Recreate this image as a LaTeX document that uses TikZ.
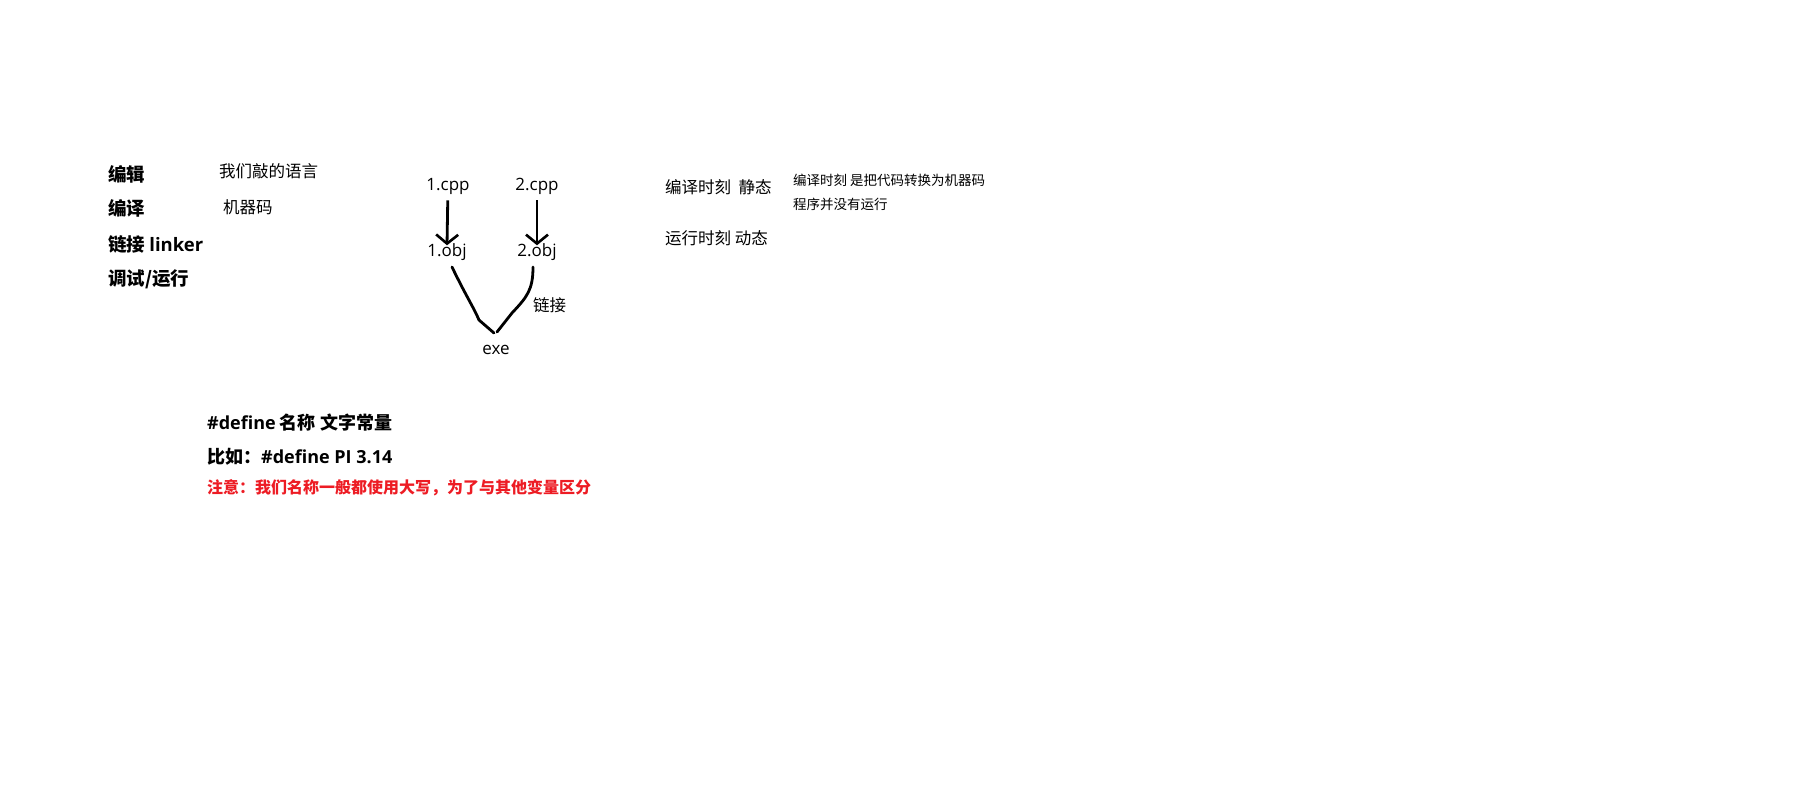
\documentclass[tikz,border=0pt]{standalone}
\usepackage{fontspec}
\setmainfont{Noto Sans CJK SC}
\newfontfamily\lat{Open Sans}
\usetikzlibrary{arrows.meta}
\usepackage{xcolor}
\definecolor{notered}{RGB}{237,28,36}

\begin{document}
\begin{tikzpicture}[x=1pt, y=-1pt, every node/.style={inner sep=0pt, anchor=west},
    stepbox/.style={font=\bfseries\fontsize{18.5}{22}\selectfont},
    plain/.style={font=\fontsize{16.5}{20}\selectfont},
    small/.style={font=\fontsize{13.5}{16}\selectfont},
    file/.style={anchor=center, font=\lat\fontsize{17}{20}\selectfont},
    arr/.style={line width=2.8pt, -{Straight Barb[length=9pt, width=22pt, line width=2.6pt]}, shorten <=6pt},
    link/.style={line width=2.8pt, line cap=round, line join=round}]
    \useasboundingbox (0,0) rectangle (1799,800);
    % steps
    \node[stepbox] (edit) at (108,174) {编辑};
    \node[stepbox] (comp) at (108,208) {编译};
    \node[stepbox] (lnk) at (108,244) {链接 {\lat linker}};
    \node[stepbox] (run) at (108,279) {调试/运行};
    \node[plain] (lang) at (219,171) {我们敲的语言};
    \node[plain] (mach) at (223,207) {机器码};
    % files
    \node[file] (0) at (448,186) {1.cpp};
    \node[file] (1) at (537,186) {2.cpp};
    \node[file] (2) at (447,252) {1.obj};
    \node[file] (3) at (537,252) {2.obj};
    \node[file] (4) at (496,350) {exe};
    \node[plain] (lnklabel) at (533,305) {链接};
        \draw[arr] (0) -- ([yshift=-2pt]2.north);
        \draw[arr] (1) -- ([yshift=-2pt]3.north);
        \draw[link] ([shift={(5,15)}]2.center) .. controls (466,296) and (474,308) .. (479,320) -- ([shift={(-2,-17)}]4.center);
        \draw[link] ([shift={(-4,15)}]3.center) .. controls (533,290) and (527,297) .. (512,313) -- ([shift={(1,-18)}]4.center);
    % times
    \node[plain] (ctime) at (665,187) {编译时刻\ \ 静态};
    \node[plain] (rtime) at (665,238) {运行时刻 动态};
    \node[small] (note1) at (793,180) {编译时刻 是把代码转换为机器码};
    \node[small] (note2) at (793,204) {程序并没有运行};
    % define
    \node[stepbox, font=\bfseries\fontsize{18}{20}\selectfont] (def) at (207,423) {{\lat\#define} 名称 文字常量};
    \node[stepbox, font=\bfseries\fontsize{18}{20}\selectfont] (ex) at (207,457) {比如：{\lat\#define PI 3.14}};
    \node[stepbox, font=\bfseries\fontsize{16}{20}\selectfont, text=notered] (warn) at (207,488) {注意：我们名称一般都使用大写，为了与其他变量区分};
\end{tikzpicture}
\end{document}
